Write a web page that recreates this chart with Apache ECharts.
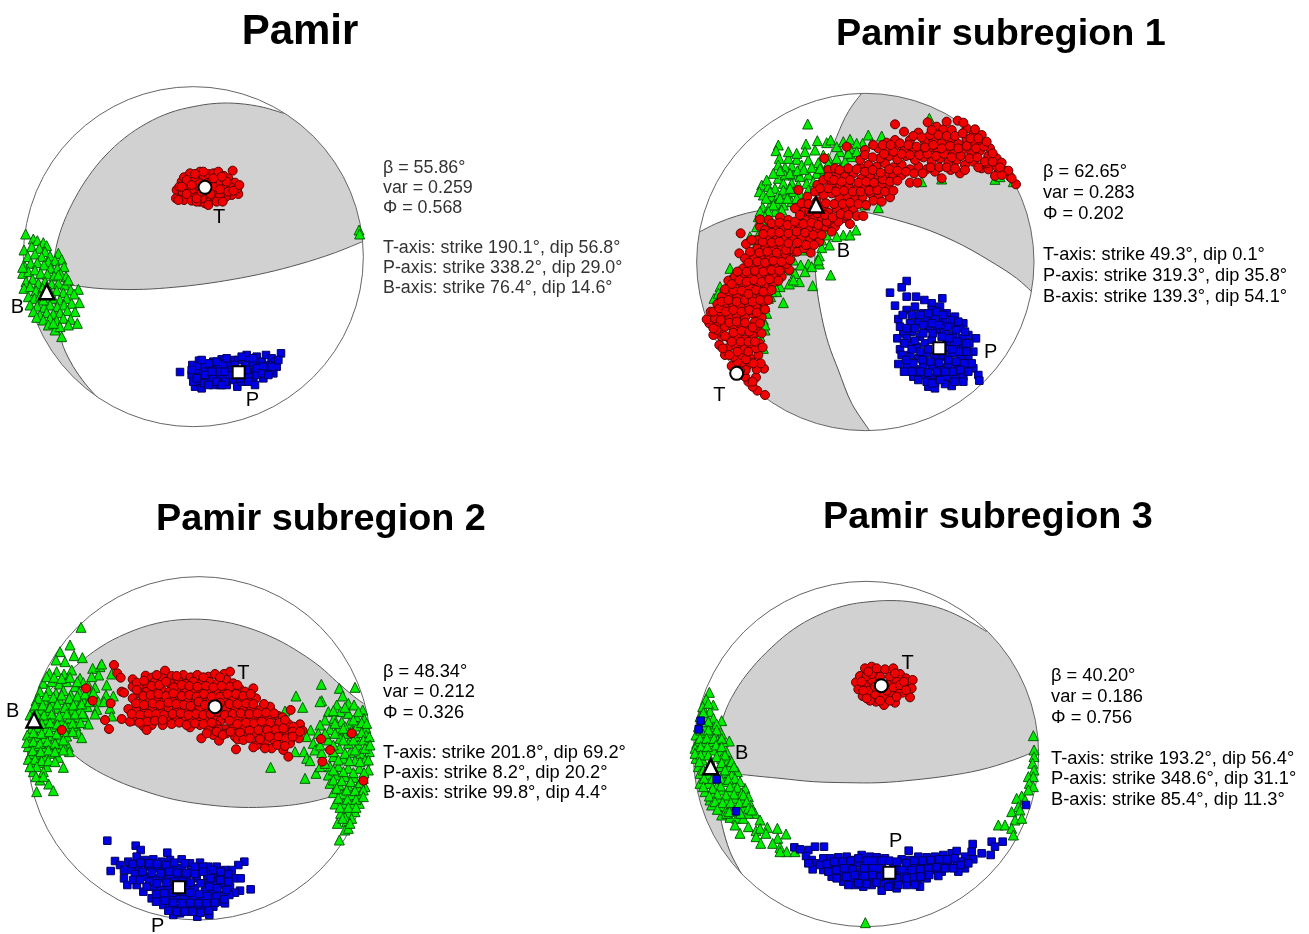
<!DOCTYPE html>
<html><head><meta charset="utf-8">
<style>html,body{margin:0;padding:0;background:#fff}#c{width:1309px;height:934px}</style>
<script src="https://cdn.jsdelivr.net/npm/echarts@6/dist/echarts.min.js"></script>
</head><body><div id="c"></div>
<script>
const titles=['Pamir','Pamir subregion 1','Pamir subregion 2','Pamir subregion 3'];
const stats=[
['β = 55.86°','var = 0.259','Φ = 0.568','','T-axis: strike 190.1°, dip 56.8°','P-axis: strike 338.2°, dip 29.0°','B-axis: strike 76.4°, dip 14.6°'],
['β = 62.65°','var = 0.283','Φ = 0.202','','T-axis: strike 49.3°, dip 0.1°','P-axis: strike 319.3°, dip 35.8°','B-axis: strike 139.3°, dip 54.1°'],
['β = 48.34°','var = 0.212','Φ = 0.326','','T-axis: strike 201.8°, dip 69.2°','P-axis: strike 8.2°, dip 20.2°','B-axis: strike 99.8°, dip 4.4°'],
['β = 40.20°','var = 0.186','Φ = 0.756','','T-axis: strike 193.2°, dip 56.4°','P-axis: strike 348.6°, dip 31.1°','B-axis: strike 85.4°, dip 11.3°']];

const circles=[[580,560,510],[556,546,506],[597,535,515],[558,552,518]];

const p1GrayA=[850,130,900,0,1200,0,1200,500,1087,515,1000,550,900,582,800,608,700,628,610,642,520,652,430,658,350,658,280,654,210,645,160,640,160,590,170,525,192,455,225,385,265,320,315,258,375,203,440,160,510,128,580,110,650,100,720,101,790,112];
const p1GrayB=[160,640,100,625,60,610,-50,600,-50,1200,290,1200,290,980,255,940,220,890,190,830,175,770,165,700];
const p2GrayA=[545,40,560,-100,1200,-100,1200,660,1055,635,1010,595,950,555,850,497,750,452,650,420,550,395,480,384,410,378,425,320,445,240,470,170,505,95];
const p2GrayB=[60,455,-100,440,-100,1200,570,1200,570,1053,515,970,475,870,445,790,425,710,410,620,405,540,405,460,410,378,300,382,230,393,170,408,110,430];
const p3GrayA=[100,430,160,350,225,290,300,232,380,190,470,160,560,148,650,152,740,172,830,208,900,248,960,290,1010,335,1060,378,1090,400,1250,400,1250,640,1105,625,1060,655,1000,678,910,700,820,710,720,712,620,704,520,688,430,662,350,632,270,590,210,545,150,495];
const p4GrayA=[920,185,1000,0,1250,0,1250,540,1075,540,1000,570,900,600,800,618,700,630,600,638,500,638,400,635,300,625,200,615,110,602,112,520,130,440,165,365,215,295,275,232,340,178,410,138,490,108,570,95,650,92,720,100,790,118,860,150];
const p4GrayB=[110,602,50,592,-100,590,-100,1200,185,1200,185,912,150,845,125,760,113,680];

const p1Green=[77,492,100,507,112,512,130,518,140,527,175,550,185,568,72,540,95,530,118,535,135,545,150,558,165,572,83,560,105,552,125,560,145,575,75,590,92,580,112,578,132,585,152,595,172,595,192,590,68,610,85,605,105,600,122,610,142,612,162,618,182,612,198,620,78,635,98,628,115,640,135,635,155,642,175,640,195,645,205,630,72,655,90,650,108,662,128,655,150,665,170,662,190,668,212,660,235,658,85,680,103,685,120,678,140,690,160,685,180,690,200,685,222,672,238,698,90,705,112,708,132,712,150,705,172,710,192,705,215,700,100,725,120,735,140,728,160,732,180,728,202,722,225,725,110,742,130,750,150,745,170,752,190,745,212,748,145,765,165,780,180,770,205,765,232,760,185,800,160,760,130,690,175,615,68,592,1077,480,1079,492];
const p1Blue=[540,906,843,850,597,872,577,885,590,905,575,915,585,950,600,938,615,885,630,900,620,925,640,875,655,890,665,868,650,915,670,925,640,945,660,945,685,880,700,870,690,900,700,930,680,945,712,950,725,935,740,855,745,870,760,880,770,860,785,875,798,855,815,865,825,875,830,890,820,910,795,905,780,890,755,905,735,885,760,930,745,915,790,925,770,915,805,885,810,900,580,935,605,955,630,935,715,870,725,860,600,920,660,905,675,905,610,905,640,925,592,888,605,870,628,880,650,875,670,882,680,865,705,885,722,900,740,900,770,895,790,890,815,890,835,870,760,865,612,940,625,945,650,935,675,935,695,915,720,925,745,935,765,945,785,910,805,915,590,925,575,900,615,915,635,905,665,945];
const p1Red=[530,360,528,385,545,335,552,322,565,345,548,365,570,310,585,330,600,305,612,320,625,312,640,310,655,305,672,318,698,302,685,325,705,338,690,350,715,372,712,355,695,375,678,380,672,352,655,340,648,365,635,335,618,385,600,395,585,375,568,378,552,390,535,390,615,400,630,395,645,385,660,378,625,405,605,385,590,355,575,358,560,330,600,340,640,350,660,358,680,335,538,350,575,392,590,395,665,320,640,325,610,305,585,312,545,350,560,372,575,345,590,385,605,365,620,340,632,372,650,395,668,395,685,365,700,362,718,345];

const p2Green=[383,132,295,195,288,212,298,235,378,192,412,182,440,188,452,180,510,178,565,165,605,168,548,190,405,210,430,225,350,238,365,255,335,258,315,262,295,255,385,240,415,248,445,235,480,215,515,230,495,245,480,265,460,255,505,270,295,295,315,285,340,285,360,290,385,285,410,280,435,270,245,315,238,335,265,320,285,325,310,310,335,310,355,315,380,310,400,305,250,345,275,350,295,345,320,340,340,335,248,382,270,375,290,370,310,375,335,365,235,410,258,400,285,395,230,440,255,435,235,465,225,480,490,465,510,465,528,450,448,495,425,503,418,528,418,552,385,552,362,555,325,570,452,585,358,605,328,612,398,617,310,668,150,565,120,620,102,655,195,590,240,520,300,620,290,635,265,655,250,720,255,750,250,805,240,770,272,650,285,600,340,540,370,510,395,490,415,470,555,375,595,383,785,297,725,305,945,298,1000,305,960,290,748,115,510,205,530,190,470,200,490,185,375,215,325,235,325,215,350,220,330,280,352,272,372,268,395,262,420,265,445,250,470,235,505,220,530,215,575,190,300,272,280,280,260,300,310,330,330,325,360,340,385,330,270,335,300,355,280,375,258,355,265,395,240,395,245,420,255,410,305,390,322,355,350,355,150,600,175,575,210,470,225,505,250,490,130,640,115,640,160,585,285,620,275,635,255,680,260,700,255,735,345,580,340,600,375,575,395,560,440,465,470,470,415,540,425,480];
const p2Blue=[680,603,665,622,630,638,645,677,680,650,708,650,733,660,755,670,787,655,655,717,680,690,705,680,730,700,755,690,780,680,800,700,825,710,850,730,690,730,715,725,740,720,765,715,790,725,815,735,840,745,865,765,888,775,670,760,695,755,720,770,745,745,770,750,795,755,820,765,845,775,868,790,880,815,660,808,685,790,710,800,735,790,755,780,800,785,825,795,850,800,665,825,690,825,715,835,740,820,765,830,790,830,815,820,840,830,865,835,880,865,655,852,680,860,705,868,730,855,755,860,780,862,805,855,830,860,855,870,700,890,725,885,750,895,775,885,800,895,825,885,850,890,895,885,898,902,745,920,765,925,815,918,668,705,695,705,720,705,745,700,770,695,790,705,815,720,835,725,660,740,680,745,705,745,730,735,755,730,778,735,803,740,828,750,855,755,652,775,680,775,705,782,730,760,758,760,785,770,808,775,832,785,858,790,672,790,695,808,720,815,745,808,790,805,815,808,838,815,860,815,678,840,700,850,728,840,752,845,778,848,805,840,828,845,852,850,875,850,672,875,695,875,720,875,745,878,770,875,795,875,820,875,840,870,865,875,715,900,740,905,765,908,795,912,825,905,850,905,755,910,780,900];
const p2Red=[255,945,232,932,218,920,205,905,195,890,228,892,252,866,230,868,208,852,185,858,155,858,172,845,197,870,135,825,160,830,185,825,210,835,235,825,118,795,142,805,168,800,192,808,215,798,238,790,125,770,100,765,120,755,148,775,172,770,195,778,218,765,232,745,88,730,112,735,135,740,160,745,182,735,205,742,225,725,245,712,80,718,105,715,92,695,125,700,148,712,170,705,195,712,218,700,240,690,112,672,135,680,158,672,182,680,205,670,228,678,250,665,125,650,150,645,172,650,195,642,218,652,240,640,262,648,145,602,165,620,188,615,210,625,232,612,255,620,278,610,165,590,190,588,212,595,235,585,258,592,280,582,305,590,190,565,178,520,215,560,240,555,262,565,285,555,310,562,328,570,195,535,222,530,245,538,268,528,292,535,318,525,345,515,198,492,232,505,255,498,280,505,305,498,330,508,352,515,392,518,235,480,262,470,290,478,312,468,338,475,365,470,390,480,418,485,182,460,240,440,265,420,255,450,285,445,310,440,335,448,358,438,385,445,410,450,435,440,240,418,300,412,325,420,348,385,375,418,400,410,425,420,450,430,465,440,490,415,510,432,345,385,372,395,395,380,425,390,445,398,470,385,495,392,520,385,530,408,550,408,355,330,382,350,412,315,430,345,455,340,478,355,503,348,525,358,548,350,572,340,595,350,630,352,433,235,430,300,455,310,480,320,505,315,530,325,555,318,580,325,605,312,628,325,445,270,470,285,495,290,520,280,545,295,570,285,595,295,620,280,640,290,665,285,690,308,712,308,465,265,540,262,565,255,590,260,615,250,640,262,665,255,690,268,715,260,740,268,765,275,785,295,812,270,840,280,945,288,540,240,600,235,628,228,652,238,678,228,705,240,730,232,755,245,780,235,805,248,830,240,855,255,880,245,905,265,925,268,950,260,975,272,990,290,1008,313,500,200,555,210,595,205,620,210,645,200,672,212,698,205,722,215,748,205,772,218,798,208,822,220,848,212,875,222,900,212,925,228,950,235,965,248,985,272,995,295,620,188,645,180,672,155,690,180,715,158,735,185,760,178,785,190,810,180,835,192,860,178,885,190,905,185,930,205,645,133,743,127,770,140,790,148,815,150,833,122,860,145,880,165,905,165,218,905,180,872,242,850,220,850,198,838,172,815,148,825,128,805,205,815,228,805,248,802,155,785,182,785,205,785,135,768,110,750,225,785,245,760,160,758,185,752,208,755,100,745,122,720,148,728,170,725,195,728,218,742,240,730,100,695,118,685,138,695,160,690,185,695,208,690,230,698,255,688,125,665,145,660,170,665,195,660,218,665,240,660,265,660,135,628,160,632,185,632,205,642,228,630,250,635,275,630,155,612,178,600,200,605,222,600,245,605,268,598,295,602,172,575,200,575,225,572,250,575,275,570,298,572,320,552,205,548,232,545,255,548,280,542,305,545,330,540,210,515,238,518,262,515,290,518,318,510,372,505,215,480,248,485,275,488,298,485,325,490,352,488,378,495,402,495,250,462,275,458,298,458,325,460,350,455,375,458,400,465,425,465,455,455,275,430,298,428,322,435,345,425,370,432,395,428,415,435,440,425,475,425,500,408,360,405,388,395,412,400,435,405,458,412,482,402,505,405,365,370,385,372,410,365,438,370,462,372,488,372,510,368,535,372,558,375,580,362,605,365,405,335,420,325,445,325,468,335,492,332,518,335,542,335,568,332,592,330,615,335,640,332,445,290,462,300,485,305,510,300,535,308,558,305,582,308,608,298,630,305,652,302,478,270,505,265,530,268,555,275,578,270,602,278,628,268,652,272,678,275,702,280,728,280,752,262,778,262,800,262,825,265,855,270,895,262,920,250,965,285,555,225,578,232,612,222,640,215,665,222,690,225,718,225,742,222,768,228,792,222,815,232,842,228,868,235,892,232,915,245,938,245,960,262,580,195,608,195,632,195,660,190,685,195,710,200,735,202,760,195,785,205,810,198,835,205,860,198,888,205,912,200,938,220,700,168,725,172,750,165,775,165,800,168,825,168,848,160,872,175,895,175,920,185,755,150,800,125,850,128,885,148];

const p3Green=[243,172,210,225,180,245,222,257,247,263,168,270,195,275,148,310,170,305,192,312,215,300,240,325,265,345,130,340,155,335,178,342,200,335,225,350,250,338,278,295,300,290,296,315,275,320,120,365,145,362,168,370,190,362,212,375,238,368,262,362,285,352,320,345,335,312,305,282,108,392,132,390,155,398,178,388,200,400,225,392,248,388,272,382,295,395,318,375,340,378,100,418,122,418,145,425,168,415,190,428,215,418,238,420,262,410,290,418,312,395,330,415,118,445,140,450,162,442,185,455,208,445,232,448,255,440,285,432,335,438,92,480,115,472,138,478,160,470,182,485,205,472,228,468,265,462,88,505,110,500,132,508,155,498,178,510,200,498,235,490,245,503,85,530,108,528,130,535,152,525,175,535,205,530,208,545,188,522,90,555,112,555,135,560,155,550,175,562,95,580,118,578,140,590,190,592,100,605,120,630,146,642,160,662,110,665,964,343,1065,352,1018,355,888,378,965,392,908,412,1028,378,960,395,855,423,1045,400,1088,420,1062,405,1010,405,985,425,1022,425,1045,430,1068,440,1092,445,1002,445,975,450,1025,455,960,465,1048,460,1072,468,1098,475,990,478,1015,480,932,480,955,490,880,478,1040,490,1068,500,1098,495,1020,505,920,500,940,520,985,510,1045,520,1075,525,1105,520,885,545,912,545,945,540,965,548,1018,535,1050,548,1082,550,1108,545,920,565,930,572,1000,560,1030,565,1065,572,1095,570,948,610,915,625,960,590,990,590,1015,590,1045,595,1078,595,1105,600,812,592,985,615,1010,615,1035,620,1062,622,1090,625,990,640,1018,645,1045,648,1072,650,1095,650,1000,668,1025,672,1055,675,1080,675,1005,702,1030,700,1058,702,1078,700,1022,730,1045,728,1065,725,1012,760,1040,755,1055,745,1035,780,1045,775,1018,810,140,320,162,322,185,325,210,322,232,335,115,385,138,378,160,382,185,375,208,385,232,378,255,372,280,368,105,405,128,405,150,412,172,402,195,412,220,405,245,402,268,395,90,435,110,432,132,435,155,432,178,438,200,432,225,432,248,430,102,460,125,460,150,458,172,462,195,468,218,460,242,458,82,495,100,488,125,490,148,485,170,492,195,485,218,485,80,518,100,515,120,520,142,515,165,520,190,510,98,542,122,545,145,540,165,545,190,540,85,568,105,568,125,572,145,572,165,575,110,590,130,605,90,590,108,620,130,620,1000,422,1035,412,1075,425,1005,460,1035,470,1060,450,1085,458,1100,460,975,490,1005,490,1030,475,1055,482,1085,488,960,525,1000,525,1030,510,1060,510,1090,510,1108,500,1000,545,1035,550,1065,540,1095,535,1110,525,1015,570,1048,572,1080,575,1105,570,975,580,1000,600,1030,605,1060,608,1092,608,1000,630,1025,632,1052,635,1080,638,1010,655,1040,660,1065,662,1090,660,1015,685,1042,688,1068,688,1090,680,1020,712,1045,712,1068,712,1035,742,1050,760,1028,745];
const p3Blue=[322,812,407,827,422,840,502,848,345,873,332,903,733,875,715,885,695,900,722,925,720,962,752,958,360,885,385,875,410,860,435,870,460,868,485,875,510,870,545,868,570,880,600,878,625,890,650,890,675,900,372,925,392,900,418,895,445,890,470,895,495,900,520,890,545,895,572,905,598,900,622,915,648,912,675,925,700,925,410,945,382,945,435,920,460,925,485,925,510,920,535,920,560,925,590,925,615,940,640,935,665,945,690,950,705,968,430,965,455,950,480,960,505,955,560,950,585,955,615,965,640,965,665,975,688,975,455,985,480,985,505,980,530,985,555,985,580,980,605,990,630,985,655,995,675,1000,490,1005,515,1010,540,1015,565,1010,590,1010,615,1015,640,1010,520,1035,540,1030,592,1040,628,1035,372,900,398,882,422,878,448,880,472,882,498,885,522,878,555,880,585,890,610,890,640,900,662,905,685,912,405,912,428,905,455,908,482,910,508,905,532,908,558,910,585,912,610,905,632,925,660,930,685,935,400,930,420,930,448,935,472,940,498,938,522,935,548,935,572,938,602,940,628,950,652,955,678,960,440,950,468,972,492,970,518,968,545,965,570,968,598,972,622,978,648,980,672,988,468,995,495,992,520,998,545,1000,570,998,595,1000,620,1000,645,998,505,1022,530,1025,555,1025,578,1025,602,1028,625,1022];
const p3Red=[342,285,352,310,362,323,365,365,372,368,332,400,365,447,315,450,327,477,258,355,278,392,185,480,963,507,990,540,967,575,1055,490,1090,632,437,317,455,323,495,302,515,318,550,315,572,322,592,315,625,320,645,312,672,312,690,305,398,328,420,345,442,345,465,335,488,325,510,340,535,330,558,342,580,335,605,340,628,335,652,340,680,330,700,340,398,350,418,370,440,365,462,358,485,360,508,365,530,355,555,365,578,358,600,368,625,360,650,370,672,358,695,365,718,355,735,365,760,355,398,385,420,400,445,390,470,385,492,395,515,385,540,392,562,390,585,400,608,385,630,395,672,392,695,388,720,385,745,390,768,385,385,417,408,420,435,420,458,415,482,420,505,412,530,420,555,418,578,425,600,412,622,425,680,415,705,420,730,410,755,415,780,420,810,410,400,452,430,445,452,450,478,442,500,448,525,445,550,440,570,452,595,445,618,450,640,442,662,452,688,440,712,450,738,442,762,448,785,440,810,445,835,438,872,420,430,468,455,465,488,465,515,462,570,472,600,465,625,475,650,465,675,478,700,468,725,475,750,465,772,470,798,462,825,470,865,462,900,463,908,482,604,505,640,495,657,512,680,490,705,500,738,495,760,490,790,495,815,490,840,485,860,490,890,498,713,508,770,525,795,515,822,510,845,515,870,510,897,505,708,538,760,532,815,535,850,540,870,520,865,560,390,455,470,315,530,318,610,322,660,322,410,338,432,332,455,348,478,345,498,335,522,352,545,345,568,348,592,350,618,348,640,352,665,348,690,350,712,345,410,360,430,378,452,375,475,372,498,378,520,370,545,378,568,375,590,380,612,372,635,380,660,380,682,372,708,372,730,378,752,372,408,400,432,405,458,400,480,405,505,398,528,402,552,405,572,408,596,395,615,405,640,405,660,398,688,402,712,402,738,400,760,402,792,402,395,432,420,435,445,432,468,432,492,435,518,432,542,430,565,435,588,432,610,435,632,432,652,425,675,435,698,432,722,430,748,432,772,430,798,428,822,430,848,442,442,455,465,452,488,450,538,458,560,465,585,460,610,462,635,458,655,478,688,452,712,462,738,458,762,460,785,455,810,458,838,458,855,450,880,470,620,490,650,485,668,495,692,485,720,488,748,482,775,480,802,480,828,478,850,475,878,485,730,510,750,505,780,508,808,500,835,500,858,505,795,535,832,525,855,528,878,500,900,485,440,480,418,458];

const p4Green=[88,367,78,388,100,405,68,410,125,452,90,425,60,440,78,440,100,445,55,470,75,470,100,470,125,492,48,495,68,490,90,490,112,510,148,513,50,520,70,515,92,515,130,515,140,545,55,540,75,545,100,540,120,545,48,565,68,570,125,565,145,570,55,590,120,590,145,590,172,605,60,610,85,615,130,610,155,615,60,640,85,640,110,650,135,635,160,640,195,655,75,665,100,670,125,660,150,665,175,660,205,680,90,690,115,685,140,690,165,685,190,690,212,705,95,705,125,710,150,710,190,712,225,730,125,735,150,742,170,745,205,730,190,745,240,750,165,765,180,790,205,770,228,782,262,772,240,775,292,775,228,800,258,790,293,805,318,792,242,820,278,820,300,832,320,845,300,845,345,845,556,1058,1060,497,1062,540,1062,560,1058,580,1062,600,1045,620,1060,620,1048,640,1060,650,1025,678,1010,685,1045,660,1035,690,1015,710,995,725,1020,720,1005,750,1025,745,955,765,975,765,995,775,1000,795,85,400,70,428,85,455,65,455,110,462,62,480,85,480,110,480,60,505,80,505,102,505,125,505,45,535,62,530,82,530,108,525,125,530,45,550,62,555,85,555,110,560,135,555,155,575,58,575,125,578,162,590,70,600,135,600,165,625,72,625,98,625,122,625,145,628,180,635,70,650,98,655,122,648,150,650,172,652,185,670,88,678,112,672,138,675,162,672,190,675,105,695,128,698,152,698,178,698,200,695,112,718,138,722,162,722,205,715,215,720,140,730,182,730,148,725];
const p4Blue=[62,452,56,478,110,628,168,724,1038,705,343,832,360,838,385,840,405,830,432,830,686,842,878,822,935,815,968,815,945,830,932,855,905,850,880,868,378,858,395,870,410,880,398,898,430,865,450,865,475,862,500,860,525,870,545,855,570,860,590,862,615,865,640,880,665,868,690,870,715,860,740,862,765,860,790,855,815,850,830,843,855,860,875,845,430,900,455,885,480,885,505,885,530,880,555,885,580,885,605,885,650,900,680,890,705,885,730,885,755,880,780,880,805,885,830,885,855,895,455,920,480,910,505,905,540,905,565,905,590,905,660,915,685,910,710,910,735,905,760,900,785,905,835,905,490,935,515,930,540,925,565,930,590,925,615,940,640,935,665,930,690,935,715,930,740,925,525,945,550,950,575,945,605,962,630,950,650,955,680,945,720,950,385,880,420,885,440,882,462,875,488,875,512,872,535,865,560,872,580,872,605,872,628,872,652,875,678,880,702,872,728,872,752,870,778,868,802,868,825,865,845,875,865,880,445,905,468,900,492,895,518,898,552,895,578,895,598,895,665,900,695,900,720,898,745,895,770,892,795,895,820,895,842,885,470,925,498,920,525,915,555,918,578,915,602,920,650,925,672,920,698,922,722,920,748,915,775,918,505,945,535,940,560,942,590,938,625,950,655,945,705,945,680,925];
const p4Red=[528,337,540,318,555,295,575,290,590,310,615,298,640,295,660,312,678,325,698,330,695,355,690,382,668,368,645,398,612,405,588,395,570,392,548,378,535,358,555,345,575,330,560,318,600,320,630,320,650,335,672,345,655,358,632,375,610,380,585,372,565,362,625,345,645,310,575,312,620,362,545,335,565,305,590,295,600,340,585,350,550,362,640,352,660,345,678,360,672,335,600,392,630,392,650,380,560,385];

const meanT=[[615,352],[170,880],[645,410],[604,347]];
const meanP=[[716,907],[778,805],[537,952],[628,908]];
const meanB=[[140,665],[408,375],[102,450],[92,590]];
const labelT=[[657,443],[118,945],[730,310],[683,280]];
const labelP=[[757,990],[932,818],[473,1070],[647,815]];
const labelB=[[52,712],[490,513],[38,425],[185,550]];

const greens=[p1Green,p2Green,p3Green,p4Green];
const blues=[p1Blue,p2Blue,p3Blue,p4Blue];
const reds=[p1Red,p2Red,p3Red,p4Red];
const grays=[[p1GrayA,p1GrayB],[p2GrayA,p2GrayB],[p3GrayA],[p4GrayA,p4GrayB]];

// Layout only.
const windows=[[0,70,370,370],[680,80,370,360],[0,570,375,364],[680,570,370,364]];
const titleBox=[[295,6,42],[996,11,37.8],[316,496,37.8],[983,494,37.8]];
const statBox=[[383,158,17.85,20,'#333'],[1043,162,18.2,20.7,'#000'],[383,662,18.25,20.2,'#000'],[1051,666,18.3,20.6,'#000']];

const pairs=a=>{const o=[];for(let i=0;i<a.length;i+=2)o.push([a[i],a[i+1]]);return o;};
// The parts of a region's outline that lie on the net, as separate runs.
function outlineRuns(pts,c){
  const inside=q=>Math.hypot(q[0]-c[0],q[1]-c[1])<=c[2]+6;
  let s=pts.findIndex(q=>!inside(q));
  const ring=s<0?pts:pts.slice(s).concat(pts.slice(0,s));
  const runs=[];let cur=[];
  ring.forEach(q=>{if(inside(q))cur.push(q);else{if(cur.length>1)runs.push(cur);cur=[];}});
  if(cur.length>1)runs.push(cur);
  return runs;
}
const font='"Liberation Sans",Arial,sans-serif';
const option={animation:false,backgroundColor:'#fff',title:[],grid:[],xAxis:[],yAxis:[],series:[]};

windows.forEach((w,i)=>{
  option.grid.push({left:w[0],top:w[1],width:w[2],height:w[3]});
  option.xAxis.push({type:'value',gridIndex:i,min:0,max:w[2]*3,show:false});
  option.yAxis.push({type:'value',gridIndex:i,min:0,max:w[3]*3,inverse:true,show:false});
  const t=titleBox[i],s=statBox[i],c=circles[i],ax={xAxisIndex:i,yAxisIndex:i};
  option.title.push({text:titles[i],left:t[0],top:t[1],textAlign:'center',textStyle:{fontFamily:font,fontWeight:'bold',fontSize:t[2],color:'#000'}});
  option.title.push({text:stats[i].join('\n'),left:s[0],top:s[1],padding:0,textStyle:{fontFamily:font,fontWeight:'normal',fontSize:s[2],lineHeight:s[3],color:s[4]}});
  option.series.push({type:'custom',...ax,coordinateSystem:'cartesian2d',clip:false,silent:true,
    data:grays[i].map(()=>[c[0],c[1]]),
    renderItem(p,api){
      const o=api.coord([c[0],c[1]]),r=api.size([c[2],0])[0];
      const pts=pairs(grays[i][p.dataIndex]);
      const children=[{type:'polygon',shape:{points:pts.map(q=>api.coord(q))},style:{fill:'#d1d1d1',stroke:null},
        clipPath:{type:'circle',shape:{cx:o[0],cy:o[1],r:r}}}];
      outlineRuns(pts,c).forEach(run=>children.push({type:'polyline',shape:{points:run.map(q=>api.coord(q)),smooth:0.35},
        style:{fill:null,stroke:'#555',lineWidth:1}}));
      return {type:'group',children};
    }});
  option.series.push({type:'custom',...ax,coordinateSystem:'cartesian2d',clip:false,silent:true,
    data:[[c[0],c[1]]],
    renderItem(p,api){
      const o=api.coord([c[0],c[1]]),r=api.size([c[2],0])[0];
      return {type:'circle',shape:{cx:o[0],cy:o[1],r:r},style:{fill:'transparent',stroke:'#666',lineWidth:1}};
    }});
  const sc=(data,symbol,size,fill,edge,bw)=>({type:'scatter',...ax,clip:false,silent:true,symbol,symbolSize:size,data,itemStyle:{color:fill,borderColor:edge,borderWidth:bw,opacity:1}});
  option.series.push(sc(pairs(greens[i]),'triangle',10,'#00ee00','#0a5c0a',1));
  option.series.push(sc(pairs(blues[i]),'rect',7.5,'#0000e6','#00005a',1));
  option.series.push(sc(pairs(reds[i]),'circle',9,'#f00000','#5a0000',1));
  option.series.push(sc([meanB[i]],'triangle',15,'#fff','#000',2.5));
  option.series.push(sc([meanP[i]],'rect',12,'#fff','#000',2));
  option.series.push(sc([meanT[i]],'circle',13,'#fff','#000',2));
  option.series.push({type:'scatter',...ax,clip:false,silent:true,symbolSize:1,itemStyle:{color:'transparent'},
    data:[{name:'T',value:labelT[i]},{name:'P',value:labelP[i]},{name:'B',value:labelB[i]}],
    label:{show:true,position:'inside',formatter:'{b}',fontFamily:font,fontSize:20,color:'#000',textBorderWidth:0,opacity:1}});
});
echarts.init(document.getElementById('c'),null,{renderer:'canvas'}).setOption(option);
</script></body></html>
